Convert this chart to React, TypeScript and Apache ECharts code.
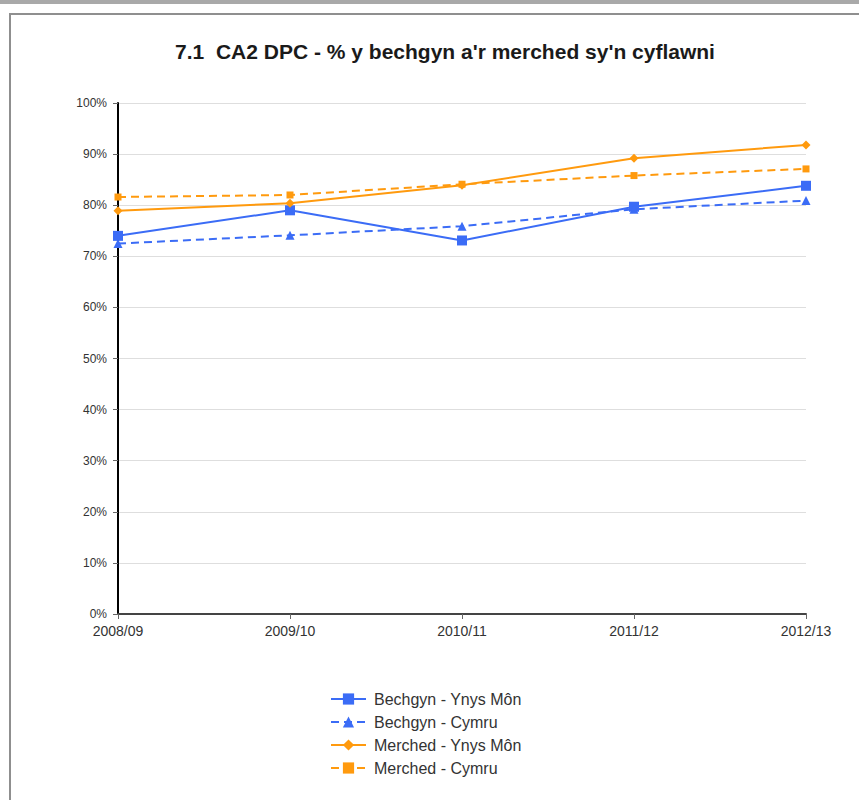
import React, { useEffect, useRef } from "react";
import * as echarts from "echarts";

const categories = ["2008/09", "2009/10", "2010/11", "2011/12", "2012/13"];
const bechgynMon = [74.0, 79.0, 73.1, 79.7, 83.8];
const bechgynCymru = [72.5, 74.1, 75.9, 79.2, 80.9];
const merchedMon = [78.9, 80.4, 83.9, 89.2, 91.8];
const merchedCymru = [81.6, 82.0, 84.1, 85.8, 87.1];
const seriesNames = [
  "Bechgyn - Ynys Môn",
  "Bechgyn - Cymru",
  "Merched - Ynys Môn",
  "Merched - Cymru",
];
const title = "7.1  CA2 DPC - % y bechgyn a'r merched sy'n cyflawni";

const BLUE = "#3b6cf6";
const ORANGE = "#ff9a0e";
const FONT = "Liberation Sans, Arial, sans-serif";

export default function App() {
  const ref = useRef<HTMLDivElement>(null);
  useEffect(() => {
    if (!ref.current) return;
    const chart = echarts.init(ref.current, undefined, { renderer: "svg" });
    const mk = (
      name: string,
      data: number[],
      color: string,
      dashed: boolean,
      symbol: string,
      size: number
    ) => ({
      name,
      type: "line",
      data,
      symbol,
      symbolSize: size,
      showAllSymbol: true,
      lineStyle: { color, width: 2, type: dashed ? [8, 5] : "solid" },
      itemStyle: { color },
      emphasis: { disabled: true },
    });
    chart.setOption({
      animation: false,
      backgroundColor: "#ffffff",
      textStyle: { fontFamily: FONT },
      title: {
        text: title,
        left: 440,
        textAlign: "center",
        top: 36,
        textStyle: { fontFamily: FONT, fontSize: 21, fontWeight: "bold", color: "#1a1a1a" },
      },
      graphic: [
        { type: "rect", shape: { x: 0, y: 0, width: 859, height: 4 }, style: { fill: "#a9a9a9" } },
        {
          type: "polyline",
          shape: { points: [[10, 800], [10, 14], [859, 14]] },
          style: { stroke: "#8f8f8f", lineWidth: 2, fill: "none" },
        },
      ],
      legend: {
        orient: "vertical",
        left: 325,
        top: 686,
        itemWidth: 35,
        itemHeight: 14,
        itemGap: 7,
        textStyle: { fontFamily: FONT, fontSize: 16, color: "#333", padding: [0, 0, 0, 3] },
        data: seriesNames,
      },
      grid: { left: 118, right: 53, top: 103, bottom: 186, containLabel: false },
      xAxis: {
        type: "category",
        data: categories,
        boundaryGap: false,
        axisLine: { show: true, lineStyle: { color: "#444", width: 2 } },
        axisTick: { show: true, alignWithLabel: true, length: 5, lineStyle: { color: "#666" } },
        axisLabel: { color: "#333", fontSize: 14, margin: 10, fontFamily: FONT },
        splitLine: { show: false },
      },
      yAxis: {
        type: "value",
        min: 0,
        max: 100,
        interval: 10,
        axisLine: { show: true, lineStyle: { color: "#000", width: 2 } },
        axisTick: { show: true, length: 5, lineStyle: { color: "#666" } },
        axisLabel: { color: "#333", fontSize: 12, margin: 11, formatter: "{value}%", fontFamily: FONT },
        splitLine: { show: true, lineStyle: { color: "#dedede", width: 1 } },
      },
      series: [
        mk(seriesNames[0], bechgynMon, BLUE, false, "rect", 10),
        mk(seriesNames[1], bechgynCymru, BLUE, true, "triangle", 9),
        mk(seriesNames[2], merchedMon, ORANGE, false, "diamond", 9),
        mk(seriesNames[3], merchedCymru, ORANGE, true, "rect", 7),
      ],
    });
    return () => chart.dispose();
  }, []);
  return (
    <div
      ref={ref}
      style={{ position: "fixed", left: 0, top: 0, width: 859, height: 800 }}
    />
  );
}
